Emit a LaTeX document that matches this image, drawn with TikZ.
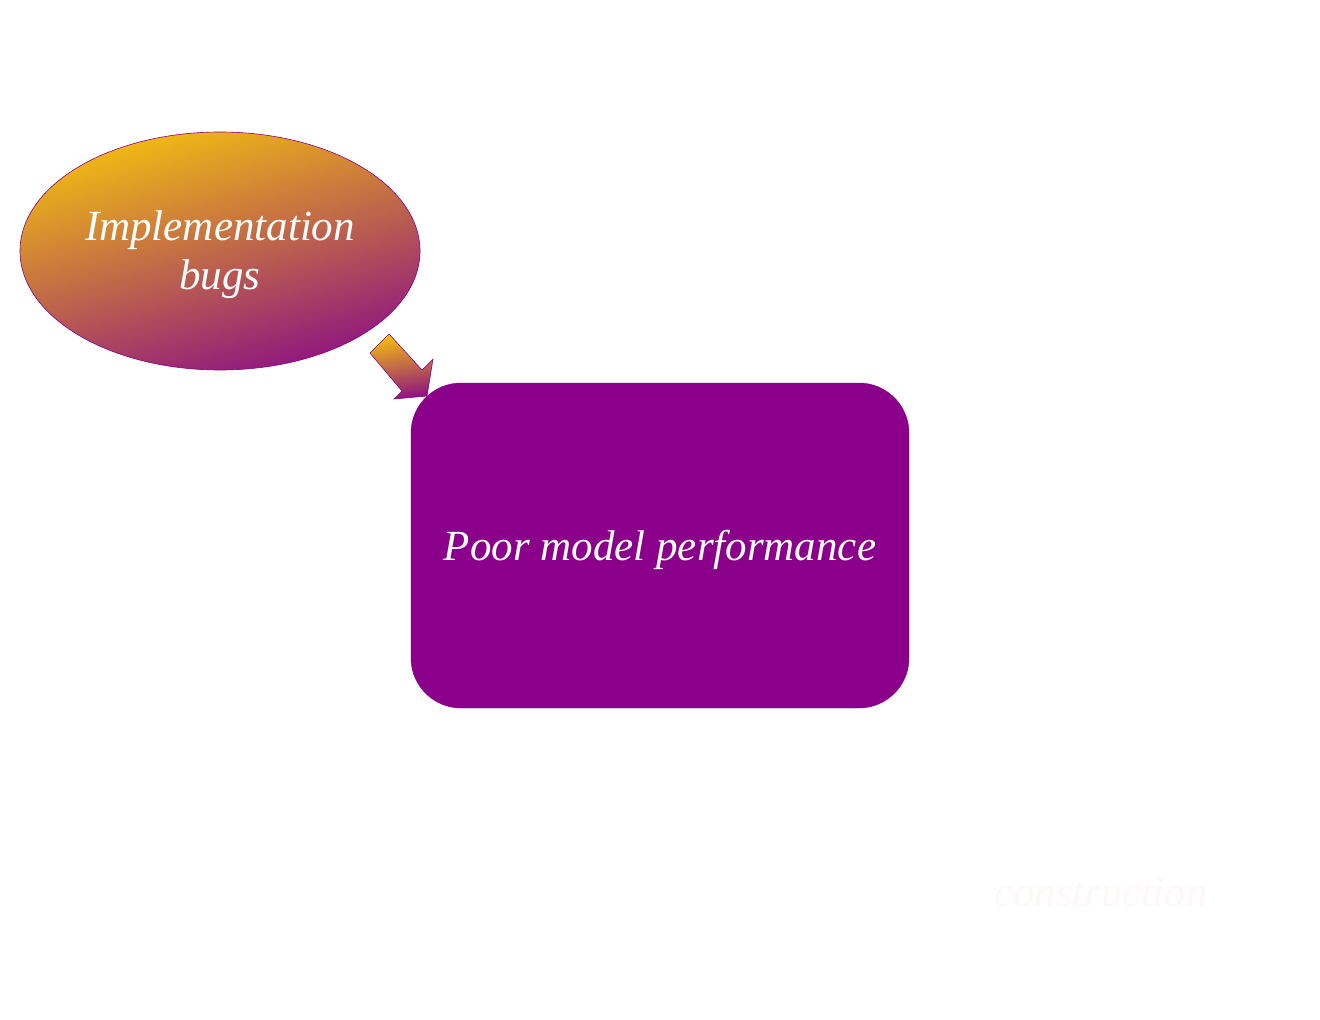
\documentclass[tikz,border=0pt]{standalone}
\usepackage{fontspec}
\setmainfont{Liberation Serif}
\usetikzlibrary{shapes.geometric}
\definecolor{gyellow}{HTML}{F2BC12}
\definecolor{gpurple}{HTML}{8E1480}
\definecolor{boxpurple}{HTML}{8B008B}
\definecolor{ghost}{HTML}{FDF8F8}
\tikzset{
  lbl/.style={text=white,font=\fontsize{43}{49}\selectfont\itshape,align=center},
  gradfill/.style={top color=gyellow,bottom color=gpurple,shading angle=16,draw=boxpurple,line width=0.6pt},
}
\begin{document}
\begin{tikzpicture}[x=1pt,y=-1pt]
\useasboundingbox[fill=white] (0,0) rectangle (1320,1020);
\node[ellipse,gradfill,minimum width=400pt,minimum height=238pt,inner sep=0pt] (impl) at (220,251) {};
\node[lbl] (impltxt) at (220,255) {Implementation\\bugs};
\node[draw=boxpurple,fill=boxpurple,rounded corners=50pt,minimum width=498pt,minimum height=325pt,inner sep=0pt] (poor) at (660,545.5) {};
\node[lbl,font=\fontsize{43}{49}\selectfont\itshape] (poortxt) at (660,549.5) {Poor model performance};
\coordinate (a1) at (370,353);
\coordinate (a2) at (389,334);
\coordinate (b2) at (422,370);
\coordinate (w2) at (433,359);
\coordinate (tip) at (427,396);
\coordinate (w1) at (394,399);
\coordinate (b1) at (402,391);
\shade[gradfill,shading angle=10] (a1) -- (a2) -- (b2) -- (w2) -- (tip) -- (w1) -- (b1) -- cycle;
\node[text=ghost,font=\fontsize{42.5}{48}\selectfont\itshape] (cons) at (1101,893) {construction};
\end{tikzpicture}
\end{document}
